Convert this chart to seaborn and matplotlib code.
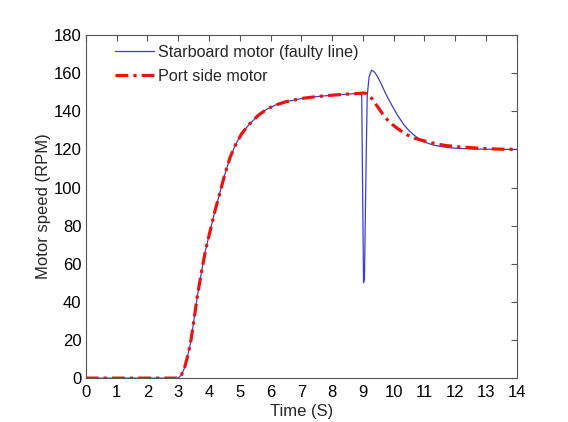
import matplotlib
matplotlib.use("Agg")
import matplotlib.pyplot as plt
import seaborn as sns

# Starboard motor (faulty line)
t_star = [0.0, 3.0, 3.1, 3.2, 3.3, 3.4, 3.5, 3.62, 3.75, 3.89, 4.05, 4.2, 4.32, 4.5, 4.69,
          4.88, 5.07, 5.3, 5.61, 5.9, 6.15, 6.5, 7.0, 7.5, 7.97, 8.5, 8.9, 8.96, 9.02,
          9.05, 9.1, 9.14, 9.2, 9.28, 9.38, 9.48, 9.58, 9.69, 9.8, 9.91, 10.12, 10.34, 10.5,
          10.66, 10.82, 10.98, 11.15, 11.31, 11.5, 11.73, 12.1, 12.6, 13.0, 13.5, 14.0]
v_star = [0.0, 0.0, 1.5, 5.0, 11.0, 18.2, 29.0, 42.7, 55.0, 67.2, 78.0, 88.0, 95.1, 106.0, 116.0,
          123.0, 128.4, 133.0, 138.0, 141.3, 143.2, 145.0, 146.7, 147.7, 148.4, 149.0, 149.4, 149.5, 50.0,
          52.0, 110.0, 148.0, 158.0, 161.6, 160.5, 158.0, 154.8, 151.0, 147.3, 144.0, 138.0, 132.7, 129.8,
          127.5, 125.6, 124.0, 123.0, 122.2, 121.6, 121.0, 120.5, 120.2, 120.1, 120.0, 120.0]

# Port side motor
t_port = [0.0, 3.0, 3.1, 3.2, 3.3, 3.4, 3.5, 3.62, 3.75, 3.89, 4.05, 4.2, 4.32, 4.5, 4.69,
          4.88, 5.07, 5.3, 5.61, 5.9, 6.15, 6.5, 7.0, 7.5, 7.97, 8.5, 8.9, 9.05, 9.15,
          9.3, 9.48, 9.64, 9.8, 9.96, 10.12, 10.3, 10.45, 10.66, 10.88, 11.15, 11.41, 11.7,
          12.06, 12.5, 13.0, 13.5, 14.0]
v_port = [0.0, 0.0, 1.5, 5.0, 11.0, 18.2, 29.0, 42.7, 55.0, 67.2, 78.0, 88.0, 95.1, 106.0, 116.0,
          123.0, 128.4, 133.0, 138.0, 141.3, 143.2, 145.0, 146.7, 147.7, 148.4, 149.0, 149.4, 149.6, 149.0,
          146.5, 142.3, 138.6, 135.4, 133.0, 131.0, 129.0, 127.5, 126.0, 124.9, 123.8, 122.8, 122.0,
          121.4, 120.9, 120.4, 120.1, 120.0]

x_ticks = list(range(0, 15))
y_ticks = list(range(0, 181, 20))

sns.set_theme(style="white")
plt.rcParams['font.family'] = ['Liberation Sans', 'DejaVu Sans']

fig = plt.figure(figsize=(5.68, 4.22), dpi=100)
ax = fig.add_axes([0.151, 0.104, 0.759, 0.813])

sns.lineplot(x=t_star, y=v_star, ax=ax, color='#3d3dd6', linewidth=0.9,
             label='Starboard motor (faulty line)', sort=False, zorder=2)
sns.lineplot(x=t_port, y=v_port, ax=ax, color='#ee1111', linewidth=2.3,
             linestyle=(0, (4, 1.6, 1, 1.6)), label='Port side motor', sort=False, zorder=3)

ax.set_xlim(0, 14)
ax.set_ylim(0, 180)
ax.set_xticks(x_ticks)
ax.set_yticks(y_ticks)
ax.tick_params(axis='both', direction='in', top=True, right=True, length=4, width=0.8,
               colors='#555555', labelcolor='black', labelsize=12)
ax.tick_params(axis='x', pad=5)
ax.tick_params(axis='y', pad=3)
for s in ax.spines.values():
    s.set_color('#555555')
    s.set_linewidth(0.8)

ax.set_xlabel('Time (S)', fontsize=12, labelpad=3)
ax.set_ylabel('Motor speed (RPM)', fontsize=12, labelpad=2)

leg = ax.legend(loc='upper left', frameon=False, fontsize=11.6, handlelength=2.4,
                handletextpad=0.3, borderaxespad=0.2, labelspacing=0.55,
                bbox_to_anchor=(0.045, 1.0))

fig.savefig('out.png', dpi=100)
